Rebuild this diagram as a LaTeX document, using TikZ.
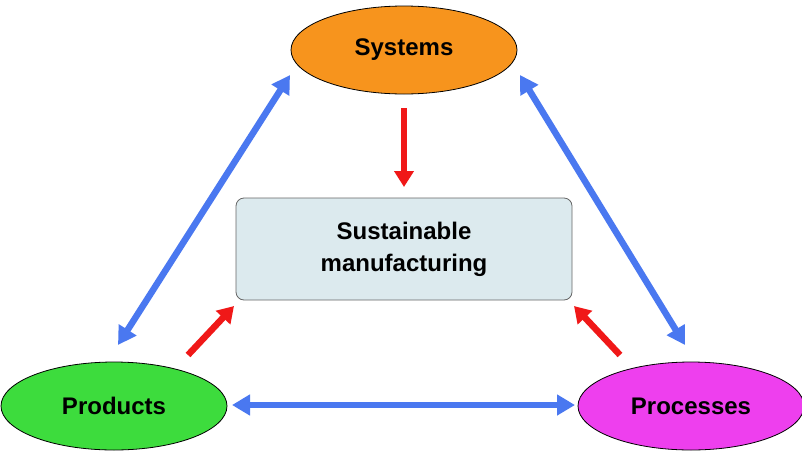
\documentclass[tikz,border=0pt]{standalone}
\usepackage{fontspec}
\setmainfont{Liberation Sans}
\usetikzlibrary{arrows.meta,shapes.geometric}
\definecolor{sysc}{HTML}{F7941D}
\definecolor{prodc}{HTML}{3DDC3D}
\definecolor{procc}{HTML}{EE3FEE}
\definecolor{boxc}{HTML}{DCEAEE}
\definecolor{bluec}{HTML}{4A78F0}
\definecolor{redc}{HTML}{F01818}
\tikzset{
 ell/.style={ellipse,draw=black,line width=0.8pt,minimum width=226pt,minimum height=88pt,font=\bfseries\fontsize{24}{28}\selectfont},
 barrow/.style={draw=bluec,line width=6.5pt,{Triangle[length=18pt,width=20pt]}-{Triangle[length=18pt,width=20pt]}},
 rarrow/.style={draw=redc,line width=6.5pt,-{Triangle[length=16pt,width=19pt]}}
}
\begin{document}
\begin{tikzpicture}[x=1pt,y=-1pt]
\useasboundingbox (0,0) rectangle (802,450);
\node[ell,fill=sysc] (sys) at (404,50) {Systems};
\node[ell,fill=prodc] (prod) at (114,406) {Products};
\node[ell,fill=procc] (proc) at (691,406) {Processes};
\node[draw=black!60,line width=0.8pt,fill=boxc,rounded corners=8pt,minimum width=336pt,minimum height=102pt,align=center,font=\bfseries\fontsize{24}{32}\selectfont] (sm) at (404,249) {Sustainable\\manufacturing};
\coordinate (a1) at (290,75); \coordinate (a2) at (118,345);
\coordinate (b1) at (520,75); \coordinate (b2) at (685,345);
\coordinate (c1) at (232,405); \coordinate (c2) at (575,405);
\draw[barrow] (a1) -- (a2);
\draw[barrow] (b1) -- (b2);
\draw[barrow] (c1) -- (c2);
\coordinate (r1) at (404,108); \coordinate (r1e) at (404,187);
\coordinate (r2) at (188,355); \coordinate (r2e) at (234,306);
\coordinate (r3) at (620,355); \coordinate (r3e) at (574,306);
\draw[rarrow] (r1) -- (r1e);
\draw[rarrow] (r2) -- (r2e);
\draw[rarrow] (r3) -- (r3e);
\end{tikzpicture}
\end{document}
